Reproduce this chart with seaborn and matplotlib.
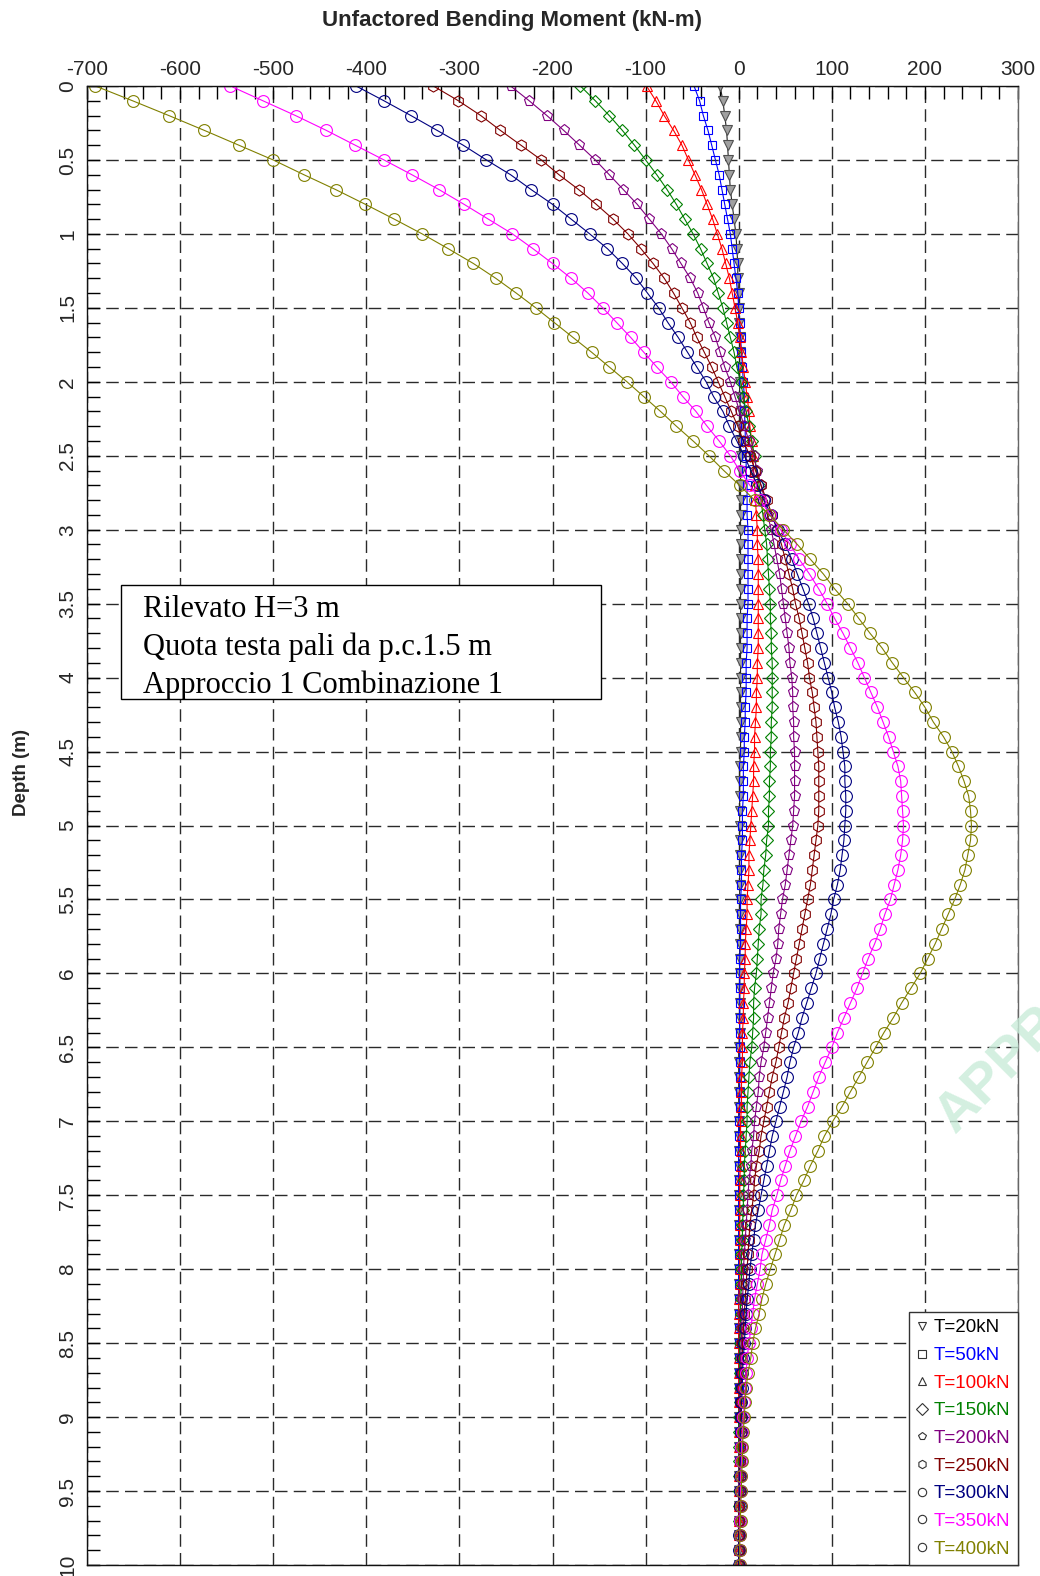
import numpy as np
import pandas as pd
import matplotlib
matplotlib.use("Agg")
import matplotlib.pyplot as plt
import seaborn as sns
from matplotlib.lines import Line2D
from matplotlib.patches import Rectangle
from matplotlib.ticker import MultipleLocator, FuncFormatter

# depth stations along the pile (m), one every 0.1 m
depth = np.linspace(0.0, 10.0, 101)

# bending moment (kN-m), rows of 0.1 m
m_20 = [-20, -17, -15, -13, -12, -11, -10, -9, -7, -5,
        -3, -2, -1, -1, 0, 0, 0, 1, 1, 1,
        1, 1, 2, 2, 2, 2, 2, 2, 2, 2,
        2, 2, 2, 2, 2, 2, 2, 2, 2, 2,
        2, 2, 2, 2, 2, 2, 1, 1, 1, 1,
        1, 1, 1, 1, 1, 1, 1, 1, 1, 1,
        1, 1, 1, 1, 1, 0, 0, 0, 0, 0,
        0, 0, 0, 0, 0, 0, 0, 0, 0, 0,
        0, 0, 0, 0, 0, 0, 0, 0, 0, 0,
        0, 0, 0, 0, 0, 0, 0, 0, 0, 0,
        0]
m_50 = [-48, -42, -38, -33, -29, -25, -21, -18, -15, -12,
        -9, -7, -5, -3, -1, 0, 1, 2, 3, 4,
        5, 6, 6, 7, 7, 8, 8, 9, 9, 9,
        10, 10, 10, 10, 10, 10, 9, 9, 9, 8,
        8, 8, 7, 7, 6, 6, 5, 5, 5, 4,
        4, 4, 3, 3, 3, 2, 2, 2, 2, 1,
        1, 1, 1, 1, 1, 1, 1, 1, 1, 1,
        0, 0, 0, 0, 0, 0, 0, 0, 0, 0,
        0, 0, 0, 0, 0, 0, 0, 0, 0, 0,
        0, 0, 0, 0, 0, 0, 0, 0, 0, 0,
        0]
m_100 = [-99, -89, -80, -70, -61, -54, -47, -40, -34, -28,
         -23, -18, -14, -10, -7, -4, -1, 1, 3, 5,
         7, 9, 11, 12, 14, 15, 16, 17, 18, 19,
         20, 20, 21, 21, 21, 21, 21, 21, 21, 20,
         20, 19, 19, 18, 17, 17, 16, 16, 15, 14,
         13, 12, 11, 11, 10, 9, 9, 8, 7, 7,
         6, 6, 5, 5, 4, 4, 4, 3, 3, 3,
         2, 2, 2, 2, 1, 1, 1, 1, 1, 1,
         1, 1, 0, 0, 0, 0, 0, 0, 0, 0,
         0, 0, 0, 0, 0, 0, 0, 0, 0, 0,
         0]
m_150 = [-170, -154, -139, -125, -112, -100, -88, -77, -67, -58,
         -49, -41, -34, -27, -22, -17, -13, -9, -5, -2,
         2, 5, 8, 11, 14, 17, 19, 22, 24, 26,
         28, 30, 31, 32, 33, 34, 34, 35, 35, 36,
         36, 36, 36, 35, 35, 34, 34, 33, 33, 32,
         32, 30, 29, 27, 26, 24, 24, 22, 21, 20,
         19, 17, 16, 16, 15, 14, 12, 11, 10, 9,
         9, 8, 7, 6, 6, 5, 5, 4, 4, 3,
         3, 3, 2, 2, 2, 1, 1, 1, 1, 1,
         0, 0, 0, 0, 0, 0, 0, 0, 0, 0,
         0]
m_200 = [-245, -225, -206, -188, -171, -154, -139, -124, -109, -96,
         -83, -72, -62, -52, -44, -38, -32, -25, -20, -15,
         -9, -4, 1, 6, 11, 16, 20, 24, 28, 31,
         35, 38, 41, 44, 46, 48, 50, 52, 54, 55,
         57, 58, 58, 59, 59, 60, 60, 60, 60, 59,
         58, 56, 54, 52, 50, 47, 45, 43, 42, 40,
         37, 35, 33, 31, 29, 27, 24, 22, 21, 19,
         17, 16, 14, 13, 11, 10, 9, 8, 7, 6,
         5, 5, 4, 4, 3, 3, 2, 2, 2, 1,
         1, 1, 1, 1, 0, 0, 0, 0, 0, 0,
         0]
m_250 = [-328, -301, -277, -256, -234, -212, -193, -172, -153, -135,
         -119, -105, -92, -80, -70, -61, -52, -45, -37, -29,
         -22, -15, -8, -1, 5, 12, 18, 24, 30, 36,
         41, 46, 50, 54, 58, 61, 65, 68, 71, 74,
         76, 79, 81, 83, 84, 85, 86, 86, 86, 86,
         85, 83, 81, 79, 77, 74, 71, 68, 65, 62,
         59, 56, 53, 49, 46, 43, 40, 36, 33, 30,
         27, 24, 22, 19, 17, 16, 14, 12, 11, 10,
         9, 8, 7, 6, 5, 4, 4, 3, 3, 2,
         2, 2, 1, 1, 1, 1, 0, 0, 0, 0,
         0]
m_300 = [-411, -381, -352, -324, -296, -271, -245, -223, -200, -180,
         -160, -141, -125, -110, -98, -86, -76, -65, -55, -45,
         -35, -27, -17, -10, -2, 6, 13, 20, 27, 35,
         42, 50, 57, 63, 69, 75, 80, 84, 88, 92,
         96, 100, 103, 107, 110, 112, 114, 114, 115, 115,
         114, 113, 111, 109, 106, 102, 99, 95, 91, 87,
         83, 78, 73, 68, 64, 59, 55, 52, 48, 44,
         40, 36, 33, 30, 27, 24, 21, 18, 16, 14,
         12, 11, 9, 8, 7, 6, 5, 4, 4, 3,
         3, 2, 2, 2, 1, 1, 1, 1, 0, 0,
         0]
m_350 = [-546, -511, -476, -443, -412, -381, -351, -322, -295, -269,
         -243, -221, -200, -180, -162, -146, -131, -116, -102, -88,
         -73, -60, -46, -34, -21, -9, 1, 12, 23, 34,
         45, 55, 65, 76, 86, 95, 103, 112, 120, 128,
         135, 142, 149, 155, 161, 166, 171, 174, 175, 176,
         177, 176, 174, 171, 167, 163, 157, 152, 146, 139,
         133, 127, 120, 113, 106, 100, 93, 86, 80, 74,
         67, 61, 55, 50, 45, 41, 36, 33, 29, 25,
         23, 20, 17, 15, 13, 11, 9, 8, 7, 6,
         5, 4, 3, 3, 2, 2, 2, 1, 1, 1,
         1]
m_400 = [-691, -651, -612, -574, -537, -500, -467, -433, -401, -370,
         -340, -312, -285, -261, -239, -218, -198, -178, -158, -139,
         -120, -102, -84, -67, -49, -32, -16, 1, 17, 33,
         48, 63, 77, 91, 103, 117, 129, 141, 154, 165,
         177, 189, 200, 209, 220, 229, 236, 242, 247, 249,
         250, 249, 246, 243, 238, 232, 225, 218, 211, 203,
         195, 185, 175, 166, 156, 147, 138, 129, 120, 111,
         101, 92, 85, 77, 70, 62, 56, 49, 44, 39,
         34, 29, 25, 22, 18, 15, 13, 10, 8, 7,
         6, 5, 4, 4, 3, 3, 2, 2, 1, 1,
         1]

loads = ["T=20kN", "T=50kN", "T=100kN", "T=150kN", "T=200kN",
         "T=250kN", "T=300kN", "T=350kN", "T=400kN"]
moments = [m_20, m_50, m_100, m_150, m_200, m_250, m_300, m_350, m_400]

colors = ["#222222", "#0000ff", "#ff0000", "#008000", "#800080",
          "#800000", "#000080", "#ff00ff", "#808000"]
text_colors = ["#000000", "#0000ff", "#ff0000", "#008000", "#800080",
               "#800000", "#000080", "#ff00ff", "#808000"]
markers = ["v", "s", "^", "D", "p", "h", "o", "o", "o"]
msizes = [6.5, 6, 7, 6, 8, 8, 8.5, 8.5, 8.5]

df = pd.concat(
    [pd.DataFrame({"load": name, "depth": depth, "moment": vals})
     for name, vals in zip(loads, moments)],
    ignore_index=True,
)

sns.set_theme(style="white")
plt.rcParams["font.family"] = ["Liberation Sans", "DejaVu Sans"]
plt.rcParams["axes.unicode_minus"] = False

fig = plt.figure(figsize=(10.4, 15.76), dpi=100)
ax = fig.add_axes([87 / 1040, 1 - 1565 / 1576, 931 / 1040, 1479 / 1576])

for name, c, m, ms in zip(loads, colors, markers, msizes):
    sub = df[df["load"] == name]
    face = "#a0a0a0" if name == "T=20kN" else "none"
    edge = "#505050" if name == "T=20kN" else c
    sns.lineplot(data=sub, x="moment", y="depth", sort=False, estimator=None,
                 color=c, linewidth=0.8, marker=m, markersize=ms,
                 markerfacecolor=face, markeredgecolor=edge,
                 markeredgewidth=0.8, legend=False, ax=ax)

ax.set_xlim(-700, 300)
ax.set_ylim(10, 0)
ax.set_xlabel("")
ax.set_ylabel("")
ax.xaxis.tick_top()
ax.xaxis.set_major_locator(MultipleLocator(100))
ax.xaxis.set_minor_locator(MultipleLocator(20))
ax.yaxis.set_major_locator(MultipleLocator(0.5))
ax.yaxis.set_minor_locator(MultipleLocator(0.1))
ax.yaxis.set_major_formatter(FuncFormatter(lambda v, p: f"{v:g}"))
ax.tick_params(which="both", direction="in", top=True, bottom=False,
               left=True, right=False, labeltop=True, labelbottom=False,
               length=9, width=1, color="black")
ax.tick_params(axis="x", labelsize=15, pad=5)
ax.tick_params(axis="y", labelsize=15, pad=7, labelrotation=90)
for lab in ax.get_yticklabels():
    lab.set_va("center")

ax.grid(True, which="major", color="#2a2a2a", linestyle=(0, (9, 4.5)),
        linewidth=1.0)
for side, sp in ax.spines.items():
    sp.set_color("#111111" if side != "right" else "#666666")
    sp.set_linewidth(1.0)

# legend: marker only, text coloured by series
handles = [Line2D([], [], linestyle="none", marker=m, markersize=6,
                  markerfacecolor="none", markeredgecolor="#333333",
                  markeredgewidth=0.8) for m in markers]
leg = ax.legend(handles, loads, loc="lower right", bbox_to_anchor=(1, 0),
                borderaxespad=0, frameon=True, fancybox=False,
                edgecolor="#333333", fontsize=13.5, labelspacing=0.56,
                handlelength=0.6, handletextpad=0.35, borderpad=0.4)
leg.get_frame().set_linewidth(1.0)
leg.get_frame().set_alpha(1)
for t, c in zip(leg.get_texts(), text_colors):
    t.set_color(c)

# annotation box
ax.add_patch(Rectangle((0.0361, 0.5855), 0.516, 0.0771, transform=ax.transAxes,
                       facecolor="white", edgecolor="black", linewidth=1.0,
                       zorder=5))
box_lines = ["Rilevato H=3 m", "Quota testa pali da p.c.1.5 m",
             "Approccio 1 Combinazione 1"]
for i, line in enumerate(box_lines):
    ax.text(0.0598, 1 - (617 + 38 * i - 86) / 1479, line, transform=ax.transAxes,
            ha="left", va="baseline", fontsize=22, family="Liberation Serif",
            color="black", zorder=6)

fig.text(512 / 1040, 1 - 26 / 1576, "Unfactored Bending Moment (kN-m)",
         ha="center", va="baseline", fontsize=16, fontweight="bold")
fig.text(21 / 1040, 1 - 772 / 1576, "Depth (m)", rotation=90,
         ha="center", va="center", fontsize=13.5, fontweight="bold")

# faint stamp at right edge
fig.text(955 / 1040, 1 - 1135 / 1576, "APPROVED", rotation=45,
         rotation_mode="anchor", ha="left", va="baseline", fontsize=40,
         fontweight="bold", color="#c9ecd9", alpha=0.8)

fig.savefig("out.png", dpi=100, facecolor="white")
